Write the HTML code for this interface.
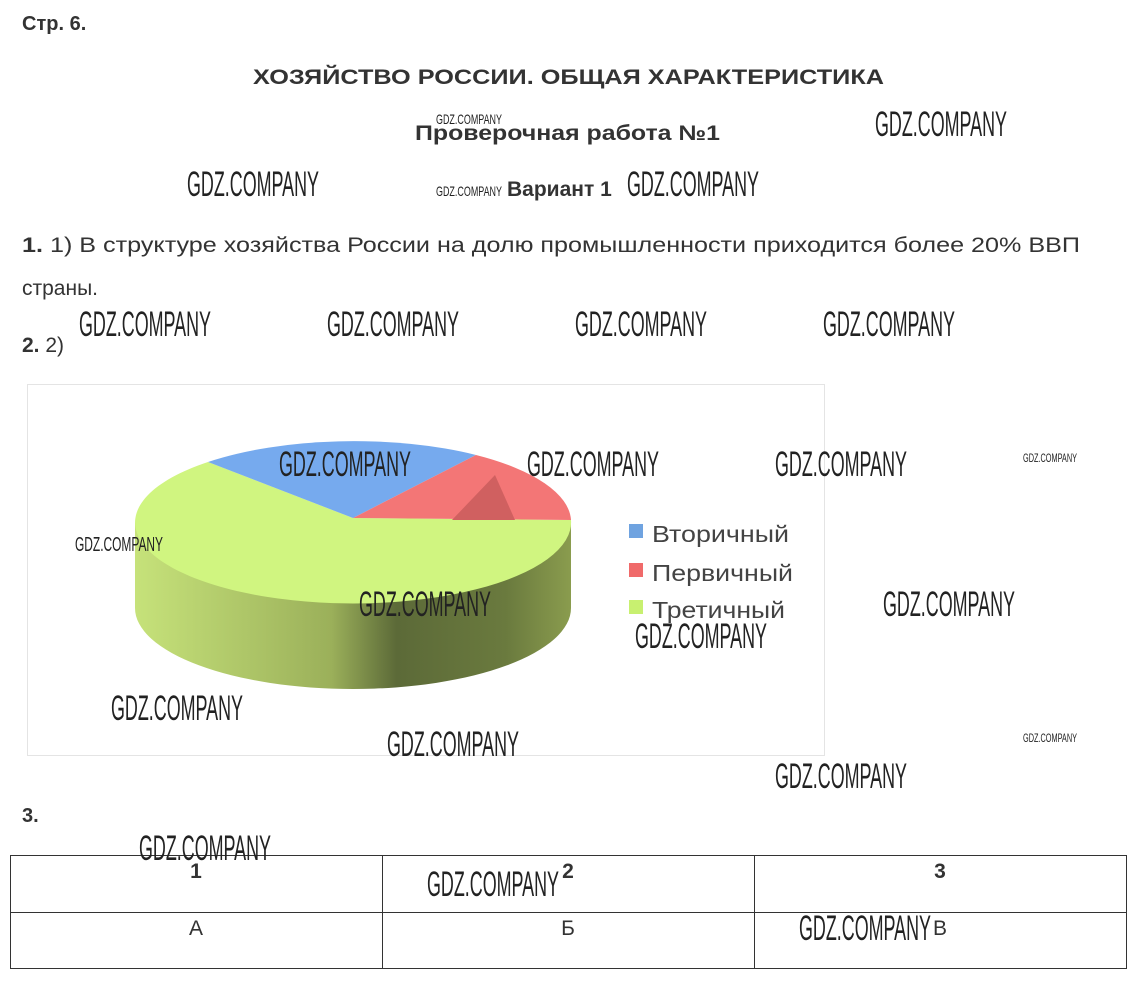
<!DOCTYPE html>
<html><head><meta charset="utf-8"><style>html,body{margin:0;padding:0;background:#fff}svg{display:block}</style></head>
<body>
<svg width="1135" height="1000" viewBox="0 0 1135 1000" xmlns="http://www.w3.org/2000/svg" font-family="Liberation Sans, sans-serif">
<defs>
<linearGradient id="side" x1="0" x2="1" y1="0" y2="0">
<stop offset="0" stop-color="#c6e27a"/><stop offset="0.45" stop-color="#9bb05a"/><stop offset="0.6" stop-color="#5c6a38"/><stop offset="0.85" stop-color="#6a7a3e"/><stop offset="1" stop-color="#8a9c4e"/>
</linearGradient>
</defs>
<g fill="#333">
<text x="22" y="30" font-size="20" font-weight="bold">Стр. 6.</text>
<text x="253" y="84" font-size="21" font-weight="bold" textLength="631" lengthAdjust="spacingAndGlyphs">ХОЗЯЙСТВО РОССИИ. ОБЩАЯ ХАРАКТЕРИСТИКА</text>
<text x="415" y="140" font-size="21" font-weight="bold" textLength="305" lengthAdjust="spacingAndGlyphs">Проверочная работа №1</text>
<text x="507" y="196" font-size="21" font-weight="bold">Вариант 1</text>
<text x="22" y="252" font-size="21" textLength="1058" lengthAdjust="spacingAndGlyphs"><tspan font-weight="bold">1.</tspan> 1) В структуре хозяйства России на долю промышленности приходится более 20% ВВП</text>
<text x="22" y="295" font-size="21">страны.</text>
<text x="22" y="352" font-size="21"><tspan font-weight="bold">2.</tspan> 2)</text>
<text x="22" y="822" font-size="20" font-weight="bold">3.</text>
</g>
<rect x="27.5" y="384.5" width="797" height="371" fill="none" stroke="#e4e4e4"/>
<path d="M135,518 L135,608 A218,81 0 0 0 571,608 L571,518 A218,81 0 0 1 135,518 Z" fill="url(#side)"/>
<path d="M353,518 L208,462 A218,81 0 1 0 571,520 Z" fill="#d0f580"/>
<path d="M353,518 L476,455 A218,81 0 0 0 208,462 Z" fill="#76aaee"/>
<path d="M353,518 L571,520 A218,81 0 0 0 476,455 Z" fill="#f37676"/>
<path d="M452,520 L495,475 L515,520 Z" fill="#d06060"/>
<rect x="629" y="524" width="14" height="14" fill="#6fa3e0"/>
<rect x="629" y="563" width="14" height="14" fill="#f06a6a"/>
<rect x="629" y="600" width="14" height="14" fill="#c8f070"/>
<g fill="#444" font-size="23">
<text x="652" y="542" textLength="137" lengthAdjust="spacingAndGlyphs">Вторичный</text>
<text x="652" y="581" textLength="141" lengthAdjust="spacingAndGlyphs">Первичный</text>
<text x="652" y="618" textLength="133" lengthAdjust="spacingAndGlyphs">Третичный</text>
</g>
<g stroke="#333" stroke-width="1" fill="none">
<rect x="10.5" y="855.5" width="1116" height="113"/>
<line x1="10" y1="912.5" x2="1127" y2="912.5"/>
<line x1="382.5" y1="855" x2="382.5" y2="969"/>
<line x1="754.5" y1="855" x2="754.5" y2="969"/>
</g>
<g fill="#333" font-size="21" text-anchor="middle">
<text x="196" y="878" font-weight="bold">1</text>
<text x="568" y="878" font-weight="bold">2</text>
<text x="940" y="878" font-weight="bold">3</text>
<text x="196" y="935">А</text>
<text x="568" y="935">Б</text>
<text x="940" y="935">В</text>
</g>
<g fill="#222" font-size="35">
<text x="875" y="136" textLength="132" lengthAdjust="spacingAndGlyphs">GDZ.COMPANY</text>
<text x="187" y="196" textLength="132" lengthAdjust="spacingAndGlyphs">GDZ.COMPANY</text>
<text x="627" y="196" textLength="132" lengthAdjust="spacingAndGlyphs">GDZ.COMPANY</text>
<text x="79" y="336" textLength="132" lengthAdjust="spacingAndGlyphs">GDZ.COMPANY</text>
<text x="327" y="336" textLength="132" lengthAdjust="spacingAndGlyphs">GDZ.COMPANY</text>
<text x="575" y="336" textLength="132" lengthAdjust="spacingAndGlyphs">GDZ.COMPANY</text>
<text x="823" y="336" textLength="132" lengthAdjust="spacingAndGlyphs">GDZ.COMPANY</text>
<text x="279" y="476" textLength="132" lengthAdjust="spacingAndGlyphs">GDZ.COMPANY</text>
<text x="527" y="476" textLength="132" lengthAdjust="spacingAndGlyphs">GDZ.COMPANY</text>
<text x="775" y="476" textLength="132" lengthAdjust="spacingAndGlyphs">GDZ.COMPANY</text>
<text x="359" y="616" textLength="132" lengthAdjust="spacingAndGlyphs">GDZ.COMPANY</text>
<text x="883" y="616" textLength="132" lengthAdjust="spacingAndGlyphs">GDZ.COMPANY</text>
<text x="635" y="648" textLength="132" lengthAdjust="spacingAndGlyphs">GDZ.COMPANY</text>
<text x="111" y="720" textLength="132" lengthAdjust="spacingAndGlyphs">GDZ.COMPANY</text>
<text x="387" y="756" textLength="132" lengthAdjust="spacingAndGlyphs">GDZ.COMPANY</text>
<text x="775" y="788" textLength="132" lengthAdjust="spacingAndGlyphs">GDZ.COMPANY</text>
<text x="139" y="860" textLength="132" lengthAdjust="spacingAndGlyphs">GDZ.COMPANY</text>
<text x="427" y="896" textLength="132" lengthAdjust="spacingAndGlyphs">GDZ.COMPANY</text>
<text x="799" y="940" textLength="132" lengthAdjust="spacingAndGlyphs">GDZ.COMPANY</text>
</g>
<g fill="#222" font-size="14">
<text x="436" y="124" textLength="66" lengthAdjust="spacingAndGlyphs">GDZ.COMPANY</text>
<text x="436" y="196" textLength="66" lengthAdjust="spacingAndGlyphs">GDZ.COMPANY</text>
<text x="1023" y="462" textLength="54" lengthAdjust="spacingAndGlyphs" font-size="12">GDZ.COMPANY</text>
<text x="1023" y="742" textLength="54" lengthAdjust="spacingAndGlyphs" font-size="12">GDZ.COMPANY</text>
<text x="75" y="551" textLength="88" lengthAdjust="spacingAndGlyphs" font-size="20">GDZ.COMPANY</text>
</g>
</svg>
</body></html>
